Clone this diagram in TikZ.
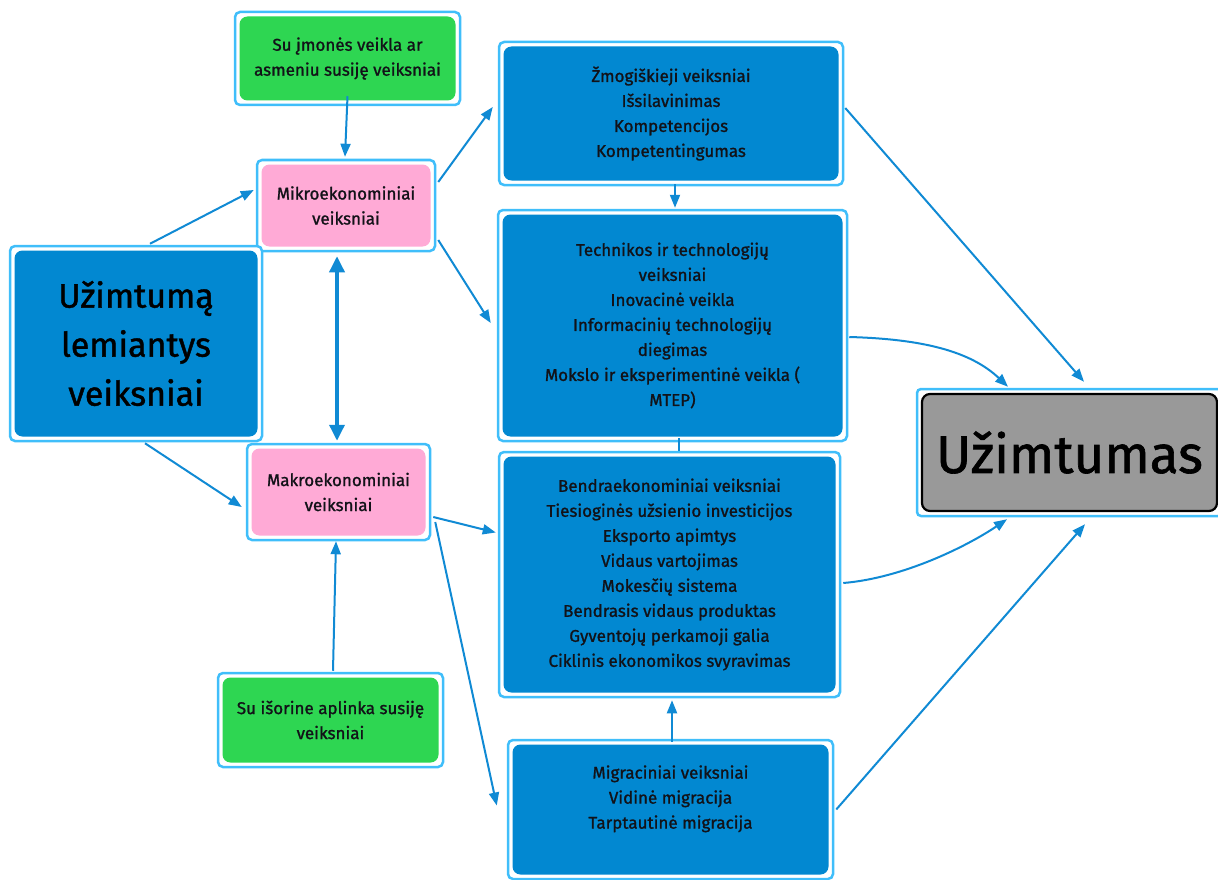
\documentclass[tikz,border=0pt]{standalone}
\usepackage{fontspec}
\setmainfont{Fira Sans}[RawFeature={embolden=1.2}]
\usetikzlibrary{arrows.meta,calc}
\definecolor{bluefill}{RGB}{2,136,209}
\definecolor{lborder}{RGB}{64,190,250}
\definecolor{pinkfill}{RGB}{255,170,214}
\definecolor{greenfill}{RGB}{46,214,82}
\definecolor{grayfill}{RGB}{153,153,153}
\definecolor{arrowc}{RGB}{16,138,212}
\definecolor{txt}{RGB}{18,18,24}
\tikzset{
  fact/.style={draw=lborder, line width=2.5pt, rounded corners=5pt, fill=white,
    inner sep=0pt, align=center, text=txt, font=\fontsize{17}{25}\selectfont,
    path picture={\fill[#1, rounded corners=8pt]
      ([shift={(4.5pt,4.5pt)}]path picture bounding box.south west) rectangle
      ([shift={(-4.5pt,-4.5pt)}]path picture bounding box.north east);}},
  result/.style={draw=lborder, line width=2.5pt, rounded corners=4pt, fill=white,
    inner sep=0pt, align=center, text=black, font=\fontsize{53}{60}\selectfont,
    path picture={\filldraw[fill=grayfill, draw=black, line width=2.2pt, rounded corners=8pt]
      ([shift={(5pt,5pt)}]path picture bounding box.south west) rectangle
      ([shift={(-5pt,-5pt)}]path picture bounding box.north east);}},
  arr/.style={draw=arrowc, line width=2pt, -{Triangle[length=13pt,width=10pt]}},
  plainline/.style={draw=arrowc, line width=2pt},
  dbl/.style={draw=arrowc, line width=3.5pt,
    {Triangle[length=16pt,width=15pt]}-{Triangle[length=16pt,width=15pt]}}
}
\begin{document}
\begin{tikzpicture}[x=1pt,y=-1pt]
\useasboundingbox (0,0) rectangle (1218,880);

\node[fact=greenfill, minimum width=225pt, minimum height=93pt] (gtop) at (347.5,58.5)
  {Su įmonės veikla ar\\asmeniu susiję veiksniai};
\node[fact=pinkfill, minimum width=178pt, minimum height=91pt] (mikro) at (346,205.5)
  {Mikroekonominiai\\veiksniai};
\node[fact=bluefill, minimum width=252pt, minimum height=195pt, text=black,
  font=\fontsize{34}{49}\selectfont] (left) at (136,343.5)
  {Užimtumą\\lemiantys\\veiksniai};
\node[fact=pinkfill, minimum width=183pt, minimum height=96pt] (makro) at (338.5,492)
  {Makroekonominiai\\veiksniai};
\node[fact=greenfill, minimum width=225pt, minimum height=94pt] (gbot) at (330.5,720)
  {Su išorine aplinka susiję\\veiksniai};

\node[fact=bluefill, minimum width=344pt, minimum height=143pt] (zmog) at (671,113.5)
  {Žmogiškieji veiksniai\\Išsilavinimas\\Kompetencijos\\Kompetentingumas};
\node[fact=bluefill, minimum width=349pt, minimum height=231pt] (tech) at (672.5,325.5)
  {Technikos ir technologijų\\veiksniai\\Inovacinė veikla\\Informacinių technologijų\\diegimas\\Mokslo ir eksperimentinė veikla (\\MTEP)};
\node[fact=bluefill, minimum width=341pt, minimum height=245pt] (bendra) at (669.5,574.5)
  {Bendraekonominiai veiksniai\\Tiesioginės užsienio investicijos\\Eksporto apimtys\\Vidaus vartojimas\\Mokesčių sistema\\Bendrasis vidaus produktas\\Gyventojų perkamoji galia\\Ciklinis ekonomikos svyravimas};
\node[fact=bluefill, minimum width=325pt, minimum height=139pt] (migr) at (670.5,809.5)
  {Migraciniai veiksniai\\Vidinė migracija\\Tarptautinė migracija\\\mbox{}};

\node[result, minimum width=305pt, minimum height=127pt] (uzim) at (1069.5,452.5)
  {Užimtumas};

% connectors
\draw[arr] ($(gtop.south)+(0,-10)$) -- ($(mikro.north)+(-1,-2)$);
\draw[arr] ($(left.north)+(14,-1)$) -- ($(mikro.west)+(-2,-15.5)$);
\draw[arr] ($(left.south)+(9,1)$) -- ($(makro.west)+(-4,15)$);
\draw[dbl] ($(mikro.south)+(-9,4)$) -- ($(makro.north)+(-1.5,-2)$);
\draw[arr] ($(mikro.east)+(2,-23.5)$) -- ($(zmog.west)+(-5,-6.5)$);
\draw[arr] ($(mikro.east)+(2,34.5)$) -- ($(tech.west)+(-6,-2.5)$);
\draw[arr] ($(makro.east)+(2,25)$) -- ($(bendra.west)+(-2,-42)$);
\draw[arr] ($(makro.east)+(4,30)$) -- ($(migr.west)+(-10,-4)$);
\draw[arr] ($(gbot.north)+(2.5,-1)$) -- ($(makro.south)+(-2.5,0)$);
\draw[arr] ($(zmog.south)+(4,-2)$) -- ($(tech.north)+(2.5,-1)$);
\draw[plainline] ($(tech.south)+(6.5,-4)$) -- ($(bendra.north)+(9.5,0)$);
\draw[arr] ($(migr.north)+(1.5,3)$) -- ($(bendra.south)+(2.5,2)$);
\draw[arr] ($(zmog.east)+(1,-5.5)$) -- ($(uzim.north)+(14.5,-6)$);
\draw[arr] ($(tech.east)+(1,11.5)$) .. controls +(72,2) and +(-38,-36) .. ($(uzim.north)+(-61.5,-1)$);
\draw[arr] ($(bendra.east)+(2,8.5)$) .. controls +(60,-5) and +(-40,27) .. ($(uzim.south)+(-62.5,2)$);
\draw[arr] ($(migr.east)+(2,0)$) -- ($(uzim.south)+(15.5,7)$);
\end{tikzpicture}
\end{document}
